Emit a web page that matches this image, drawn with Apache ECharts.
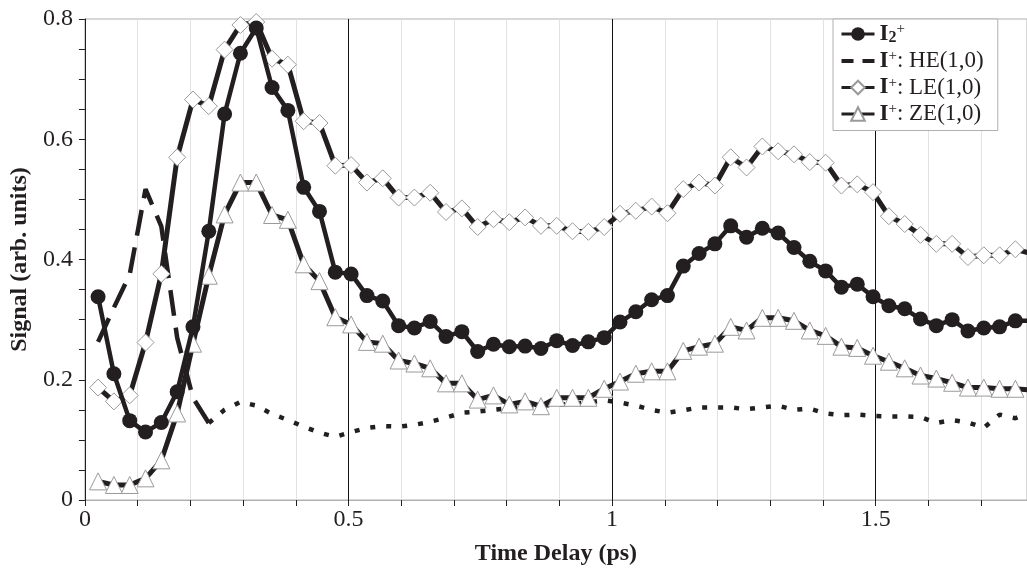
<!DOCTYPE html>
<html><head><meta charset="utf-8">
<script src="https://cdn.jsdelivr.net/npm/echarts@6/dist/echarts.min.js"></script>
<style>html,body{margin:0;padding:0;background:#fff}#c{width:1027px;height:571px}</style>
</head><body><div id="c"></div>
<script>
const T=[0.025,0.055,0.085,0.115,0.145,0.175,0.205,0.235,0.265,0.295,
0.325,0.355,0.385,0.415,0.445,0.475,0.505,0.535,0.565,0.595,
0.625,0.655,0.685,0.715,0.745,0.775,0.805,0.835,0.865,0.895,
0.925,0.955,0.985,1.015,1.045,1.075,1.105,1.135,1.165,1.195,
1.225,1.255,1.285,1.315,1.345,1.375,1.405,1.435,1.465,1.495,
1.525,1.555,1.585,1.615,1.645,1.675,1.705,1.735,1.765,1.795];
const I2=[0.338,0.21,0.132,0.113,0.129,0.18,0.288,0.447,0.642,0.743,0.785,0.686,0.648,0.52,0.48,0.379,0.376,0.34,0.331,0.29,0.286,0.297,0.272,0.28,0.247,0.259,0.255,0.256,0.252,0.265,0.257,0.263,0.27,0.296,0.313,0.333,0.34,0.389,0.41,0.426,0.456,0.437,0.452,0.444,0.42,0.397,0.381,0.354,0.359,0.338,0.323,0.318,0.301,0.29,0.3,0.281,0.286,0.288,0.298,0.298];
const HE=[0.263,0.32,0.375,0.517,0.455,0.27,0.17,0.128,0.15,0.163,0.157,0.143,0.133,0.122,0.112,0.105,0.113,0.12,0.123,0.122,0.125,0.13,0.137,0.145,0.147,0.15,0.153,0.155,0.157,0.158,0.16,0.162,0.166,0.162,0.157,0.15,0.145,0.149,0.154,0.154,0.154,0.151,0.154,0.157,0.15,0.152,0.144,0.141,0.142,0.14,0.139,0.139,0.138,0.128,0.133,0.129,0.12,0.142,0.136,0.146];
const LE=[0.187,0.164,0.174,0.262,0.376,0.57,0.666,0.655,0.749,0.79,0.795,0.734,0.724,0.63,0.627,0.556,0.557,0.528,0.535,0.503,0.503,0.511,0.479,0.485,0.454,0.467,0.462,0.47,0.456,0.456,0.447,0.446,0.454,0.476,0.481,0.488,0.477,0.517,0.528,0.523,0.57,0.553,0.588,0.58,0.575,0.562,0.561,0.523,0.525,0.512,0.472,0.459,0.441,0.426,0.426,0.404,0.407,0.407,0.417,0.41];
const ZE=[0.031,0.025,0.025,0.036,0.066,0.144,0.26,0.373,0.475,0.528,0.528,0.474,0.466,0.392,0.364,0.304,0.292,0.263,0.26,0.232,0.227,0.219,0.194,0.194,0.167,0.174,0.159,0.164,0.156,0.17,0.17,0.17,0.185,0.197,0.21,0.214,0.214,0.248,0.255,0.26,0.288,0.282,0.303,0.303,0.298,0.282,0.273,0.255,0.253,0.24,0.23,0.219,0.207,0.202,0.195,0.187,0.187,0.185,0.185,0.183];
const xTickLabels=[0,0.5,1,1.5];
const yTickLabels=[0,0.2,0.4,0.6,0.8];
const HE_SPLIT=7;

const F='Liberation Serif', C='#231f20';
const pairs=a=>T.map((t,i)=>[t,a[i]]);
const heAll=pairs(HE);
const near=(v,list)=>list.find(x=>Math.abs(x-v)<1e-6);
const chart=echarts.init(document.getElementById('c'),null,{renderer:'canvas'});
const hollow={color:'#fff',borderColor:'#9a9a9a',borderWidth:1};
const dashIcon='path://M0,0L12,0L12,4L0,4ZM21,0L33,0L33,4L21,4Z';
chart.setOption({
  animation:false,
  backgroundColor:'#fff',
  grid:{left:80,right:0,top:19,bottom:69,show:true,borderColor:'#b0b0b0',borderWidth:1,containLabel:false},
  xAxis:[{
    type:'value',min:0,max:1.787,interval:0.1,
    name:'Time Delay (ps)',nameLocation:'middle',nameGap:42,
    nameTextStyle:{fontFamily:F,fontSize:24,fontWeight:'bold',color:C},
    axisLine:{show:true,lineStyle:{color:'#b0b0b0',width:1}},
    axisTick:{show:true,inside:false,length:6,lineStyle:{color:C,width:1}},
    axisLabel:{margin:8,fontFamily:F,fontSize:24,color:C,showMaxLabel:false,
      formatter:v=>{const m=near(v,xTickLabels);return m===undefined?'':String(m);}},
    splitLine:{show:true,lineStyle:{color:'#e2e2e2',width:1}}
  },{
    type:'value',min:0,max:1.787,interval:0.5,position:'bottom',
    axisLine:{show:false},axisTick:{show:false},axisLabel:{show:false},
    splitLine:{show:true,lineStyle:{color:'#111',width:1}}
  }],
  yAxis:{
    type:'value',min:0,max:0.8,interval:0.05,
    name:'Signal (arb. units)',nameLocation:'middle',nameGap:48,
    nameTextStyle:{fontFamily:F,fontSize:24,fontWeight:'bold',color:C},
    axisLine:{show:true,lineStyle:{color:C,width:1}},
    axisTick:{show:true,inside:false,length:6,lineStyle:{color:C,width:1}},
    axisLabel:{margin:12,fontFamily:F,fontSize:24,color:C,
      formatter:v=>{const m=near(v,yTickLabels);return m===undefined?'':String(m);}},
    splitLine:{show:false}
  },
  legend:{
    orient:'vertical',left:833,top:19,padding:[3,14,5,7],itemGap:3,
    itemWidth:33,itemHeight:17,backgroundColor:'#fff',borderColor:'#b0b0b0',borderWidth:1,
    lineStyle:{width:3},
    data:[{name:'I2'},{name:'HE',icon:dashIcon},{name:'LE'},{name:'ZE'}],
    textStyle:{fontFamily:F,fontSize:23,color:C,rich:{
      b:{fontFamily:F,fontSize:23,fontWeight:'bold',color:C,lineHeight:24},
      n:{fontFamily:F,fontSize:23,color:C,lineHeight:24},
      sup:{fontFamily:F,fontSize:15,color:C,verticalAlign:'top',lineHeight:14},
      sub:{fontFamily:F,fontSize:16,fontWeight:'bold',color:C,verticalAlign:'bottom',lineHeight:14}
    }},
    formatter:n=>({I2:'{b|I}{sub|2}{sup|+}',HE:'{b|I}{sup|+}{n|: HE(1,0)}',LE:'{b|I}{sup|+}{n|: LE(1,0)}',ZE:'{b|I}{sup|+}{n|: ZE(1,0)}'})[n]
  },
  series:[
    {name:'HE',type:'line',data:heAll.slice(0,HE_SPLIT+1),symbol:'none',z:2,
      lineStyle:{color:C,width:4.5,type:[26,12]},itemStyle:{color:C}},
    {name:'HE',type:'line',data:heAll.slice(HE_SPLIT),symbol:'none',z:2,
      lineStyle:{color:C,width:4.5,type:[5,11]},itemStyle:{color:C}},
    {name:'ZE',type:'line',data:pairs(ZE),symbol:'triangle',symbolSize:17,z:3,
      lineStyle:{color:C,width:5},itemStyle:hollow},
    {name:'LE',type:'line',data:pairs(LE),symbol:'diamond',symbolSize:17,z:4,
      lineStyle:{color:C,width:5},itemStyle:hollow},
    {name:'I2',type:'line',data:pairs(I2),symbol:'circle',symbolSize:15,z:5,
      lineStyle:{color:C,width:4.5},itemStyle:{color:C}}
  ]
});
</script></body></html>
